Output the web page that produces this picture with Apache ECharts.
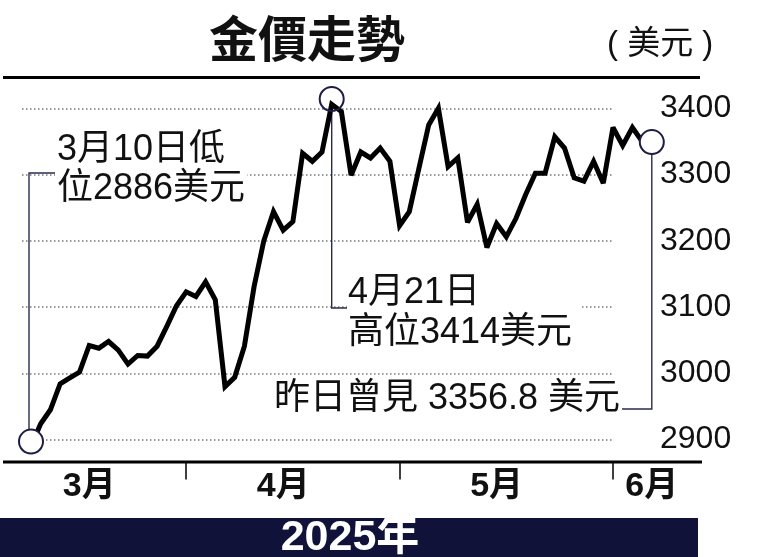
<!DOCTYPE html>
<html>
<head>
<meta charset="utf-8">
<script src="https://cdn.jsdelivr.net/npm/echarts@6/dist/echarts.min.js"></script>
<style>
  html, body { margin: 0; padding: 0; background: #fff; }
  #main { width: 761px; height: 557px; }
</style>
</head>
<body>
<div id="main"></div>
<script>
// 交易日（2025年3月10日至6月6日）
const dates = [
  '3/10', '3/11', '3/12', '3/13', '3/14', '3/17', '3/18', '3/19', '3/20', '3/21',
  '3/24', '3/25', '3/26', '3/27', '3/28', '3/31',
  '4/1', '4/2', '4/3', '4/4', '4/7', '4/8', '4/9', '4/10', '4/11', '4/14',
  '4/15', '4/16', '4/17', '4/18', '4/21', '4/22', '4/23', '4/24', '4/25', '4/28',
  '4/29', '4/30',
  '5/1', '5/2', '5/5', '5/6', '5/7', '5/8', '5/9', '5/12', '5/13', '5/14',
  '5/15', '5/16', '5/19', '5/20', '5/21', '5/22', '5/23', '5/26', '5/27', '5/28',
  '5/29', '5/30',
  '6/2', '6/3', '6/4', '6/5', '6/6'
];

// 金價（美元），按圖讀數
const prices = [
  2890, 2924, 2945, 2984, 2993, 3002, 3042, 3038, 3048, 3035,
  3014, 3027, 3026, 3041, 3071, 3102,
  3123, 3116, 3138, 3111, 2980, 2994, 3041, 3131, 3200, 3244,
  3216, 3229, 3332, 3320, 3334, 3406, 3395, 3299, 3334, 3325,
  3340, 3320,
  3223, 3244, 3310, 3375, 3400, 3312, 3325, 3228, 3255, 3190,
  3226, 3206, 3234, 3270, 3302, 3302, 3357, 3340, 3295, 3290,
  3320, 3287,
  3371, 3344, 3371, 3350, 3352
];

// 標記點（圈）：低位、高位、昨日
const keyDates = ['3/10', '4/22', '6/6'];
const keyValues = [2897, 3414, 3349];

const monthTickDates = ['4/1', '5/1', '6/2'];
const monthLabels = { '3/18': '3月', '4/15': '4月', '5/15': '5月', '6/6': '6月' };

const yMin = 2900;
const yMax = 3400;
const yStep = 100;

const FONT = "'Liberation Sans', 'Noto Sans CJK TC', sans-serif";
const NAVY = '#1b1d45';

const chart = echarts.init(document.getElementById('main'));

const gridTop = 108.3;
const gridBottom = 117.4;

chart.setOption({
  animation: false,
  backgroundColor: '#fff',
  title: [
    {
      text: '金價走勢',
      left: 204,
      top: 9,
      textStyle: { fontFamily: 'Noto Sans CJK TC', fontSize: 49, fontWeight: 'bold', color: '#111' }
    },
    {
      text: '( 美元 )',
      left: 602,
      top: 23,
      textStyle: { fontFamily: FONT, fontSize: 33, fontWeight: 'normal', color: '#111' }
    }
  ],
  grid: [
    { left: 31, right: 109.2, top: gridTop, bottom: gridBottom },
    { left: 22, right: 147, top: gridTop, bottom: gridBottom }
  ],
  xAxis: [
    {
      type: 'category',
      gridIndex: 0,
      data: dates,
      boundaryGap: false,
      offset: 22,
      axisLine: { show: false },
      axisTick: {
        show: true,
        length: 18,
        interval: (i, v) => monthTickDates.includes(v),
        lineStyle: { color: '#000', width: 1.5 }
      },
      axisLabel: {
        interval: (i, v) => v in monthLabels,
        formatter: v => monthLabels[v] || '',
        margin: 8,
        fontFamily: FONT,
        fontSize: 34,
        fontWeight: 'bold',
        color: '#111'
      },
      splitLine: { show: false }
    },
    { type: 'value', gridIndex: 1, show: false, min: 0, max: 1 }
  ],
  yAxis: [
    { type: 'value', gridIndex: 0, min: yMin, max: yMax, interval: yStep, show: false },
    {
      type: 'value',
      gridIndex: 1,
      position: 'right',
      min: yMin,
      max: yMax,
      interval: yStep,
      axisLine: { show: false },
      axisTick: { show: false },
      axisLabel: {
        margin: 46,
        formatter: v => String(v),
        fontFamily: FONT,
        fontSize: 32,
        color: '#111'
      },
      splitLine: { lineStyle: { color: '#777', width: 1.5, type: [1.5, 2.5] } }
    }
  ],
  series: [
    {
      type: 'line',
      xAxisIndex: 0,
      yAxisIndex: 0,
      data: prices,
      showSymbol: false,
      clip: false,
      z: 2,
      lineStyle: { color: '#000', width: 5, join: 'miter', miterLimit: 3 }
    },
    {
      type: 'scatter',
      xAxisIndex: 0,
      yAxisIndex: 0,
      clip: false,
      z: 3,
      symbol: 'circle',
      symbolSize: 24,
      data: keyDates.map((d, i) => ({
        value: [d, keyValues[i]],
        itemStyle: { color: i === 1 ? 'rgba(255,255,255,0)' : '#fff' }
      })),
      itemStyle: { borderColor: NAVY, borderWidth: 2, opacity: 1 }
    }
  ]
});

// 引線與說明文字
const pt = (d, v) => chart.convertToPixel({ gridIndex: 0 }, [d, v]);
const low = pt(keyDates[0], keyValues[0]);
const high = pt(keyDates[1], keyValues[1]);
const last = pt(keyDates[2], keyValues[2]);
const r = 12;
const leader = { stroke: '#2a2c4e', lineWidth: 1.4, fill: null };
const textStyle = { font: `36px ${FONT}`, fill: '#111', backgroundColor: '#fff' };

chart.setOption({
  graphic: [
    // 頂部橫線
    { type: 'rect', shape: { x: 3, y: 76, width: 697, height: 3 }, style: { fill: '#000' }, z: 10 },
    // 底部軸線
    { type: 'rect', shape: { x: 3, y: 460.5, width: 699, height: 3 }, style: { fill: '#000' }, z: 10 },
    // 年份條
    { type: 'rect', shape: { x: 0, y: 518, width: 698, height: 39 }, style: { fill: '#10123a' }, z: 10 },
    {
      type: 'text', x: 350, y: 538, z: 11,
      style: { text: '2025年', font: `bold 43px ${FONT}`, fill: '#fff', align: 'center', verticalAlign: 'middle' }
    },
    // 低位
    {
      type: 'polyline', z: 1,
      shape: { points: [[55, 173], [low[0] - 2, 173], [low[0] - 2, low[1] - r]] },
      style: leader
    },
    {
      type: 'text', x: 55, y: 131, z: 1,
      style: Object.assign({ text: '3月10日低\n位2886美元', lineHeight: 39, padding: [0, 2] }, textStyle)
    },
    // 高位
    {
      type: 'polyline', z: 1,
      shape: { points: [[high[0], high[1] + r], [high[0], 308], [347, 308]] },
      style: leader
    },
    {
      type: 'text', x: 347, y: 273, z: 1,
      style: Object.assign({ text: '4月21日\n高位3414美元', lineHeight: 40, padding: [0, 10, 0, 1] }, textStyle)
    },
    // 昨日
    {
      type: 'polyline', z: 1,
      shape: { points: [[last[0], last[1] + r], [last[0], 409], [622, 409]] },
      style: leader
    },
    {
      type: 'text', x: 620, y: 399, z: 1,
      style: Object.assign({ text: '昨日曾見 3356.8 美元', align: 'right', verticalAlign: 'middle' }, textStyle)
    }
  ]
});
</script>
</body>
</html>
